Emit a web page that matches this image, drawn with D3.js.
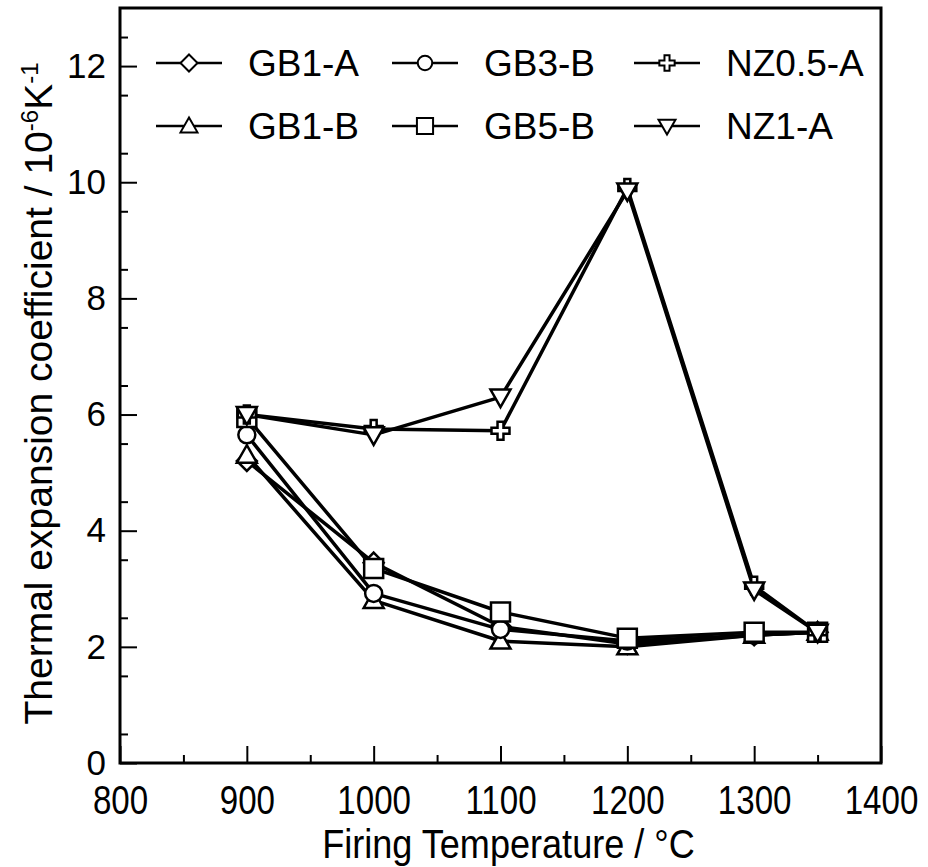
<!DOCTYPE html>
<html>
<head>
<meta charset="utf-8">
<script src="https://cdn.jsdelivr.net/npm/d3@7"></script>
<style>
  body { margin: 0; background: #fff; }
  text { font-family: "Liberation Sans", Arial, Helvetica, sans-serif; fill: #000; }
</style>
</head>
<body>
<div id="chart"></div>
<script>
// firing temperatures (x)
let temps = [900, 1000, 1100, 1200, 1300, 1350];

// thermal expansion coefficient, 10^-6 K^-1
let gb1a = [5.2, 3.45, 2.35, 2.05, 2.2, 2.25];
let gb1b = [5.3, 2.8, 2.1, 2.0, 2.2, 2.25];
let gb3b = [5.65, 2.92, 2.3, 2.1, 2.2, 2.25];
let gb5b = [5.95, 3.35, 2.6, 2.15, 2.25, 2.25];
let nz05a = [6.0, 5.75, 5.72, 9.9, 3.05, 2.25];
let nz1a = [6.0, 5.65, 6.3, 9.85, 2.98, 2.25];

let seriesNames = ["GB1-A", "GB1-B", "GB3-B", "GB5-B", "NZ0.5-A", "NZ1-A"];
let seriesValues = [gb1a, gb1b, gb3b, gb5b, nz05a, nz1a];

let xTicks = [800, 900, 1000, 1100, 1200, 1300, 1400];
let yTicks = [0, 2, 4, 6, 8, 10, 12];

// marker shapes, size = half width in px
let diamond = { draw: function(c, r) { c.moveTo(0, -r); c.lineTo(r, 0); c.lineTo(0, r); c.lineTo(-r, 0); c.closePath(); } };
let circle = { draw: function(c, r) { c.moveTo(r, 0); c.arc(0, 0, r, 0, 2 * Math.PI); } };
let triUp = { draw: function(c, r) { c.moveTo(0, -r); c.lineTo(r, r * 0.75); c.lineTo(-r, r * 0.75); c.closePath(); } };
let square = { draw: function(c, r) { c.rect(-r, -r, 2 * r, 2 * r); } };
let triDown = { draw: function(c, r) { c.moveTo(0, r); c.lineTo(r, -r * 0.75); c.lineTo(-r, -r * 0.75); c.closePath(); } };
let cross = { draw: function(c, r) {
    let w = r * 0.33;
    c.moveTo(-w, -r); c.lineTo(w, -r); c.lineTo(w, -w); c.lineTo(r, -w); c.lineTo(r, w);
    c.lineTo(w, w); c.lineTo(w, r); c.lineTo(-w, r); c.lineTo(-w, w); c.lineTo(-r, w);
    c.lineTo(-r, -w); c.lineTo(-w, -w); c.closePath();
} };
let shapes = [diamond, triUp, circle, square, cross, triDown];
let shapeSize = [10, 10, 8.5, 9.5, 9, 10];

let W = 928, H = 867;
let margin = { top: 8, left: 120, right: 47, bottom: 104 };
let width = W - margin.left - margin.right;
let height = H - margin.top - margin.bottom;

let svg = d3.select("#chart").append("svg")
    .attr("width", W)
    .attr("height", H);

let g = svg.append("g")
    .attr("transform", "translate(" + margin.left + "," + margin.top + ")");

let x = d3.scaleLinear().domain([800, 1400]).range([0, width]);
let y = d3.scaleLinear().domain([0, 13]).range([height, 0]);

// minor ticks
g.append("g")
    .attr("transform", "translate(0," + height + ")")
    .call(d3.axisBottom(x).tickValues(d3.range(850, 1400, 100)).tickSize(-8).tickSizeOuter(0).tickFormat(""))
    .call(a => a.select(".domain").remove())
    .selectAll("line").attr("stroke-width", 2);
g.append("g")
    .call(d3.axisLeft(y).tickValues(d3.range(0.5, 13, 1)).tickSize(-8).tickSizeOuter(0).tickFormat(""))
    .call(a => a.select(".domain").remove())
    .selectAll("line").attr("stroke-width", 2);

// major ticks + labels
let xAxis = g.append("g")
    .attr("transform", "translate(0," + height + ")")
    .call(d3.axisBottom(x).tickValues(xTicks).tickSize(-17).tickSizeOuter(0).tickPadding(22).tickFormat(d3.format("d")));
xAxis.select(".domain").remove();
xAxis.selectAll("line").attr("stroke-width", 2);
// labels in the reference look a little condensed
xAxis.selectAll("text")
    .style("font-size", "36px")
    .attr("fill", "#000")
    .attr("transform", "scale(0.92,1.12)")
    .attr("x", function() { return 0; });
xAxis.selectAll(".tick text").attr("y", 20);

let yAxis = g.append("g")
    .call(d3.axisLeft(y).tickValues(yTicks).tickSize(-17).tickSizeOuter(0).tickPadding(14));
yAxis.select(".domain").remove();
yAxis.selectAll("line").attr("stroke-width", 2);
yAxis.selectAll("text").style("font-size", "35px").attr("fill", "#000");

// frame
g.append("rect")
    .attr("width", width)
    .attr("height", height)
    .attr("fill", "none")
    .attr("stroke", "#000")
    .attr("stroke-width", 3);

// series
let line = d3.line()
    .x((d, i) => x(temps[i]))
    .y(d => y(d));

for (let s = 0; s < seriesValues.length; s++) {
    g.append("path")
        .datum(seriesValues[s])
        .attr("fill", "none")
        .attr("stroke", "#000")
        .attr("stroke-width", 3.5)
        .attr("stroke-linejoin", "round")
        .attr("d", line);
}
for (let s = 0; s < seriesValues.length; s++) {
    g.append("g")
        .selectAll("path")
        .data(seriesValues[s])
        .enter()
        .append("path")
        .attr("transform", (d, i) => "translate(" + x(temps[i]) + "," + y(d) + ")")
        .attr("d", d3.symbol().type(shapes[s]).size(shapeSize[s]))
        .attr("fill", "#fff")
        .attr("stroke", "#000")
        .attr("stroke-width", 2.5);
}

// legend
let legendX = [69, 305, 547];
let legendY = [55, 118];
for (let s = 0; s < seriesNames.length; s++) {
    let lx = legendX[Math.floor(s / 2)];
    let ly = legendY[s % 2];
    let lg = g.append("g").attr("transform", "translate(" + lx + "," + ly + ")");
    lg.append("line")
        .attr("x1", -33).attr("x2", 33)
        .attr("stroke", "#000").attr("stroke-width", 2.5);
    lg.append("path")
        .attr("d", d3.symbol().type(shapes[s]).size(shapeSize[s] * 0.85))
        .attr("fill", "#fff")
        .attr("stroke", "#000")
        .attr("stroke-width", 2);
    lg.append("text")
        .attr("x", 59)
        .attr("dy", "0.35em")
        .style("font-size", "37px")
        .text(seriesNames[s]);
}

// axis titles
svg.append("text")
    .attr("transform", "translate(" + (margin.left + width / 2 + 8) + ",858)scale(0.95,1.08)")
    .attr("text-anchor", "middle")
    .style("font-size", "38px")
    .text("Firing Temperature / °C");

let yt = svg.append("text")
    .attr("transform", "translate(52," + (margin.top + height / 2 + 8) + ")rotate(-90)")
    .attr("text-anchor", "middle")
    .style("font-size", "39px");
yt.append("tspan").text("Thermal expansion coefficient / 10");
yt.append("tspan").attr("dy", -14).style("font-size", "24px").text("-6");
yt.append("tspan").attr("dy", 14).text("K");
yt.append("tspan").attr("dy", -14).style("font-size", "24px").text("-1");
</script>
</body>
</html>
